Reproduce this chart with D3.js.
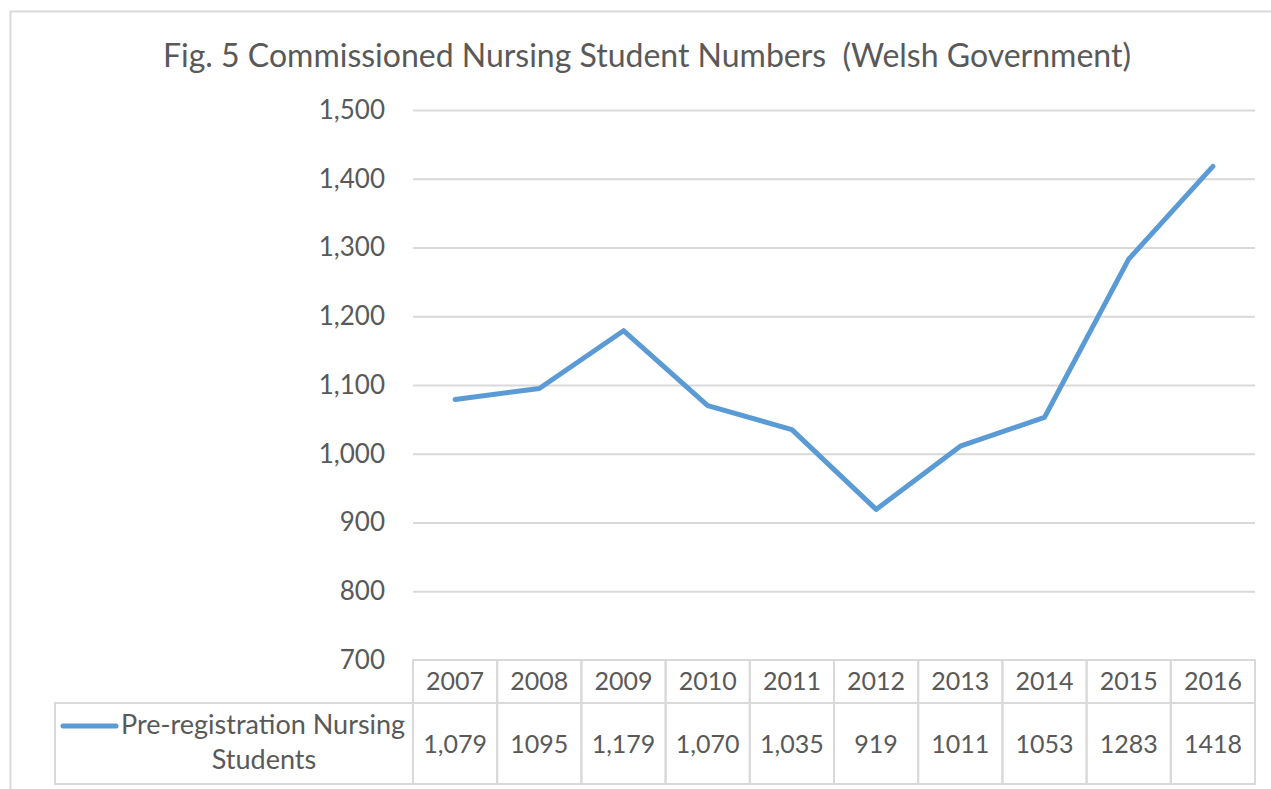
<!DOCTYPE html>
<meta charset="utf-8">
<style>
  body { margin: 0; background: #fff; }
  text { font-family: Lato, 'Open Sans', sans-serif; fill: #595959; }
</style>
<script src="https://d3js.org/d3.v7.min.js"></script>
<div id="chart"></div>
<script>
// data
var years = ["2007", "2008", "2009", "2010", "2011", "2012", "2013", "2014", "2015", "2016"];
var students = [1079, 1095, 1179, 1070, 1035, 919, 1011, 1053, 1283, 1418];
// the data table prints them inconsistently, so keep its labels as given
var tableLabels = ["1,079", "1095", "1,179", "1,070", "1,035", "919", "1011", "1053", "1283", "1418"];
var yTicks = [700, 800, 900, 1000, 1100, 1200, 1300, 1400, 1500];
var seriesName = ["Pre-registration Nursing", "Students"];
var title = "Fig. 5 Commissioned Nursing Student Numbers\u00a0 (Welsh Government)";

var W = 1271, H = 789;
var grey = "#d9d9d9", blue = "#5b9bd5";

var svg = d3.select("#chart").append("svg")
    .attr("width", W)
    .attr("height", H);

// outer chart frame (runs off the right and bottom of the picture)
svg.append("rect")
    .attr("x", 10.5).attr("y", 11.5)
    .attr("width", 1300).attr("height", 820)
    .attr("fill", "none").attr("stroke", grey).attr("stroke-width", 2);

svg.append("text")
    .attr("x", 647).attr("y", 67)
    .attr("text-anchor", "middle")
    .style("font-size", "32px")
    .text(title);

var x = d3.scaleBand().domain(years).range([413, 1255]).padding(0);
var y = d3.scaleLinear().domain([700, 1500]).range([660, 110]);

// gridlines + tick labels
var yAxis = svg.append("g")
    .attr("transform", "translate(413,0)")
    .call(d3.axisLeft(y).tickValues(yTicks).tickSize(-842).tickPadding(28).tickFormat(d3.format(",")));
yAxis.select(".domain").remove();
yAxis.selectAll("line").attr("stroke", grey).attr("stroke-width", 2);
yAxis.selectAll("text")
    .style("font-size", "26px")
    .style("font-family", "Lato, 'Open Sans', sans-serif")
    .attr("fill", "#595959");
// the bottom gridline is replaced by the table border
yAxis.selectAll(".tick").filter(function(d) { return d === 700; }).select("line").remove();

// line
var line = d3.line()
    .x(function(d, i) { return x(years[i]) + x.bandwidth() / 2; })
    .y(function(d) { return y(d); });

svg.append("path")
    .datum(students)
    .attr("d", line)
    .attr("fill", "none")
    .attr("stroke", blue)
    .attr("stroke-width", 5)
    .attr("stroke-linejoin", "round")
    .attr("stroke-linecap", "round");

// data table
var rowTop = 660, rowMid = 703, rowBot = 784;
var table = svg.append("g")
    .attr("fill", "none").attr("stroke", grey).attr("stroke-width", 2);

table.selectAll("rect.cell")
    .data(years)
  .enter().append("rect")
    .attr("x", function(d) { return x(d); })
    .attr("y", rowTop)
    .attr("width", x.bandwidth())
    .attr("height", rowBot - rowTop);

table.append("line")
    .attr("x1", 55).attr("x2", 1255)
    .attr("y1", rowMid).attr("y2", rowMid);
table.append("rect")
    .attr("x", 55).attr("y", rowMid)
    .attr("width", 358).attr("height", rowBot - rowMid);

svg.selectAll("text.year")
    .data(years)
  .enter().append("text")
    .attr("class", "year")
    .attr("x", function(d) { return x(d) + x.bandwidth() / 2; })
    .attr("y", 690)
    .attr("text-anchor", "middle")
    .style("font-size", "25px")
    .text(function(d) { return d; });

svg.selectAll("text.val")
    .data(tableLabels)
  .enter().append("text")
    .attr("class", "val")
    .attr("x", function(d, i) { return x(years[i]) + x.bandwidth() / 2; })
    .attr("y", 753)
    .attr("text-anchor", "middle")
    .style("font-size", "25px")
    .text(function(d) { return d; });

// legend key inside the table
svg.append("line")
    .attr("x1", 63).attr("x2", 116)
    .attr("y1", 726).attr("y2", 726)
    .attr("stroke", blue).attr("stroke-width", 5)
    .attr("stroke-linecap", "round");

svg.append("text")
    .attr("x", 121).attr("y", 734)
    .style("font-size", "27px")
    .text(seriesName[0]);
svg.append("text")
    .attr("x", 264).attr("y", 769)
    .attr("text-anchor", "middle")
    .style("font-size", "27px")
    .text(seriesName[1]);
</script>
